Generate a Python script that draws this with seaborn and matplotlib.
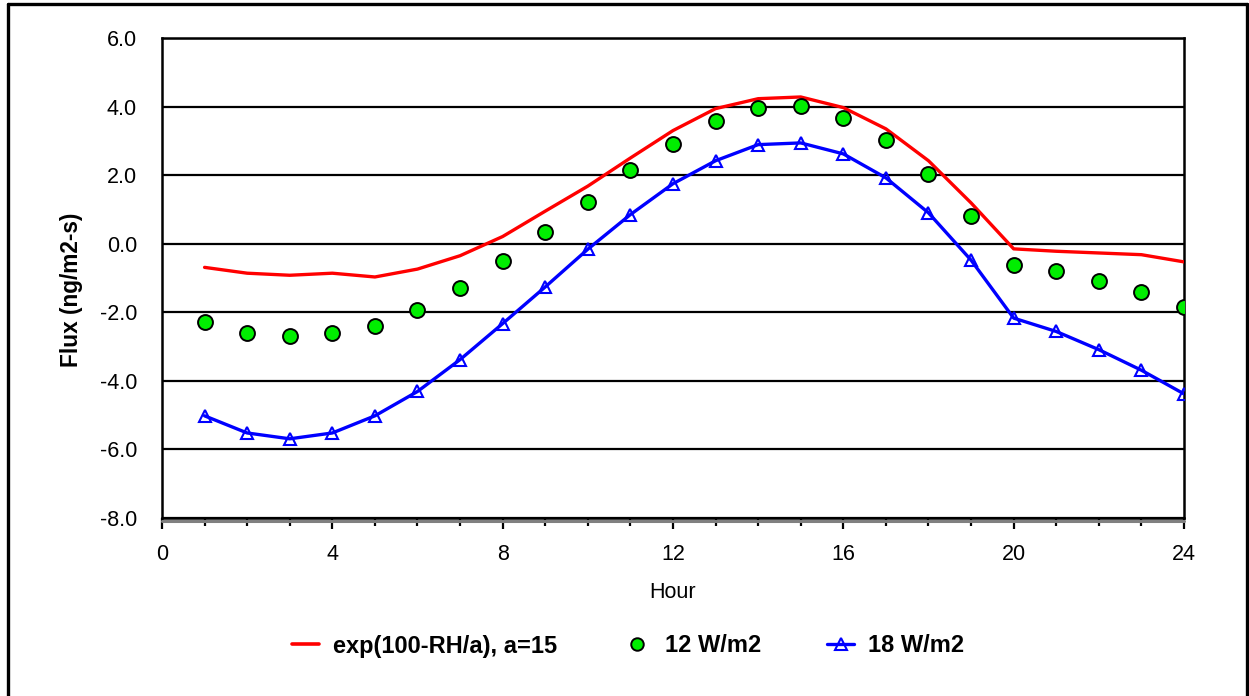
import numpy as np
import pandas as pd
import matplotlib
matplotlib.use("Agg")
import matplotlib.pyplot as plt
import matplotlib.transforms as mtransforms
from matplotlib.lines import Line2D
from matplotlib.ticker import MultipleLocator, FormatStrFormatter
import seaborn as sns

hours = list(range(1, 25))

model_exp = [-0.69, -0.86, -0.92, -0.86, -0.97, -0.74, -0.35, 0.21, 0.95, 1.68,
             2.50, 3.30, 3.94, 4.23, 4.28, 3.97, 3.35, 2.42, 1.19, -0.15,
             -0.22, -0.27, -0.32, -0.53]
flux_12w = [-2.27, -2.60, -2.70, -2.60, -2.41, -1.92, -1.28, -0.50, 0.35, 1.23,
            2.14, 2.91, 3.57, 3.97, 4.03, 3.68, 3.03, 2.03, 0.82, -0.63,
            -0.81, -1.10, -1.41, -1.86]
flux_18w = [-5.02, -5.52, -5.69, -5.52, -5.02, -4.31, -3.38, -2.33, -1.26, -0.16,
            0.85, 1.75, 2.42, 2.89, 2.94, 2.62, 1.92, 0.90, -0.48, -2.17,
            -2.56, -3.09, -3.69, -4.38]

labels = ["exp(100-RH/a), a=15", "12 W/m2", "18 W/m2"]
x_ticks = [0, 4, 8, 12, 16, 20, 24]

df = pd.DataFrame({"Hour": hours, "exp": model_exp, "w12": flux_12w, "w18": flux_18w})

sns.set_theme(style="white")
plt.rcParams["font.family"] = ["Liberation Sans", "DejaVu Sans"]
plt.rcParams["text.color"] = "black"
plt.rcParams["axes.labelcolor"] = "black"
plt.rcParams["xtick.color"] = "black"
plt.rcParams["ytick.color"] = "black"

fig = plt.figure(figsize=(12.49, 6.96), dpi=100)
ax = fig.add_axes([162 / 1249, 1 - 518 / 696, (1184 - 162) / 1249, (518 - 38) / 696])

sns.lineplot(data=df, x="Hour", y="exp", ax=ax, color="#ff0000", linewidth=2.4,
             label=labels[0], zorder=4)
sns.scatterplot(data=df, x="Hour", y="w12", ax=ax, color="#00ee00", edgecolor="black",
                linewidth=1.4, s=115, marker="o", label=labels[1], zorder=5)
sns.lineplot(data=df, x="Hour", y="w18", ax=ax, color="#0000ff", linewidth=2.4,
             marker="^", markersize=9, markerfacecolor="none", markeredgecolor="#0000ff",
             markeredgewidth=1.5, label=labels[2], zorder=4)

ax.set_xlim(0, 24)
ax.set_ylim(-8, 6)
ax.xaxis.set_major_locator(MultipleLocator(4))
ax.xaxis.set_minor_locator(MultipleLocator(1))
ax.yaxis.set_major_locator(MultipleLocator(2))
ax.yaxis.set_major_formatter(FormatStrFormatter("%.1f"))
ax.set_xticks(x_ticks)
ax.set_xticklabels([str(t) for t in x_ticks])

ax.grid(axis="y", color="black", linewidth=1.6)
ax.grid(axis="x", visible=False)
for s in ax.spines.values():
    s.set_visible(True)
    s.set_color("black")
    s.set_linewidth(1.8)

ax.tick_params(axis="x", which="major", direction="out", length=8, width=1.6,
               color="black", labelsize=15.5, pad=11, bottom=True, labelcolor="black")
ax.tick_params(axis="x", which="minor", direction="out", length=6, width=1.6,
               color="black", bottom=True)
ax.tick_params(axis="y", which="both", length=0, labelsize=15.5, pad=18,
               labelcolor="black")

ax.set_xlabel("Hour", fontsize=15.5, labelpad=12, color="black")
ax.set_ylabel("Flux (ng/m2-s)", fontsize=16.3, fontweight="bold", color="black")
ax.yaxis.set_label_coords(-0.077, 0.476)

# grey shadow line just beneath the x axis
shadow = mtransforms.offset_copy(ax.get_xaxis_transform(), fig=fig, x=0, y=-2.5, units="dots")
ax.plot([0, 24], [0, 0], transform=shadow, color="#808080", linewidth=2.2,
        clip_on=False, zorder=1)

ax.legend_.remove()
handles = [
    Line2D([], [], color="#ff0000", linewidth=2.6),
    Line2D([], [], linestyle="none", marker="o", markersize=9, markerfacecolor="#00ee00",
           markeredgecolor="black", markeredgewidth=1.4),
    Line2D([], [], color="#0000ff", linewidth=2.4, marker="^", markersize=9,
           markerfacecolor="none", markeredgecolor="#0000ff", markeredgewidth=1.5),
]
fig.legend(handles, labels, loc="center", bbox_to_anchor=(0.503, 1 - 646 / 696), ncol=3,
           frameon=False, prop={"weight": "bold", "size": 17}, handlelength=1.15,
           handletextpad=0.6, columnspacing=2.8, labelcolor="black")

# outer frame of the figure
frame_kw = dict(color="black", linewidth=2.4, transform=fig.transFigure)
fig.add_artist(Line2D([8 / 1249, 8 / 1249], [0, 1 - 4 / 696], **frame_kw))
fig.add_artist(Line2D([8 / 1249, 1247 / 1249], [1 - 4 / 696, 1 - 4 / 696], **frame_kw))
fig.add_artist(Line2D([1247 / 1249, 1247 / 1249], [0, 1 - 4 / 696], **frame_kw))

fig.savefig("out.png", dpi=100, facecolor="white")
